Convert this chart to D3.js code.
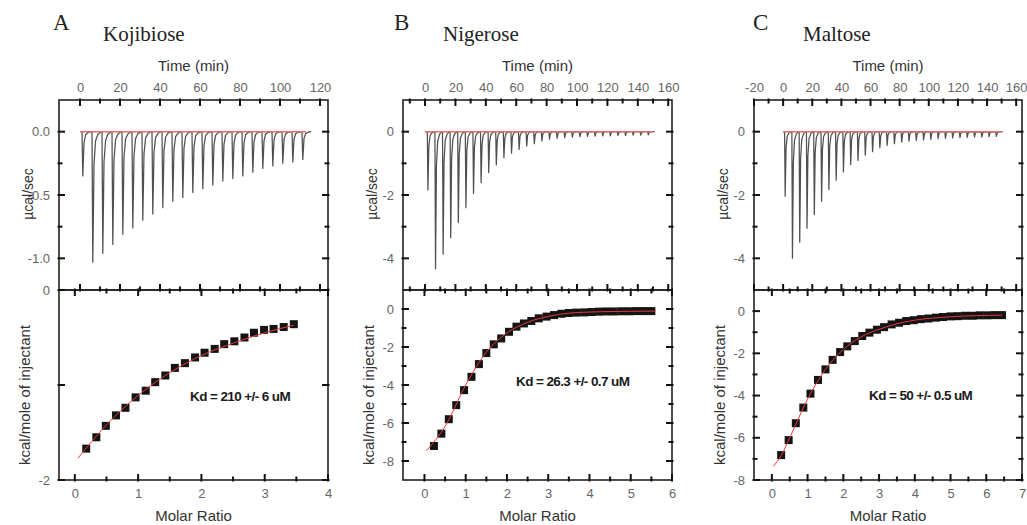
<!DOCTYPE html>
<html>
<head>
<meta charset="utf-8">
<script src="https://cdn.jsdelivr.net/npm/d3@7"></script>
<style>
    body { margin: 0; background: #fff; }
    svg { display: block; }
    .tick text { font-family: "Liberation Sans", Arial, sans-serif; font-size: 13px; fill: #666; }
    .axis-title { font-family: "Liberation Sans", Arial, sans-serif; font-size: 15px; fill: #333; }
    .letter { font-family: "Liberation Serif", "Times New Roman", serif; font-size: 23px; fill: #222; }
    .sugar { font-family: "Liberation Serif", "Times New Roman", serif; font-size: 21px; fill: #222; }
    .kd { font-family: "Liberation Sans", Arial, sans-serif; font-size: 13.5px; font-weight: bold; letter-spacing: -0.6px; fill: #1a1a1a; }
    .edge-tick { stroke: #111; stroke-width: 2; }
</style>
</head>
<body>
<svg width="1027" height="525"></svg>
<script>
// **** data ****

var letters = ['A', 'B', 'C'];
var sugarNames = ['Kojibiose', 'Nigerose', 'Maltose'];
var kdTexts = ['Kd = 210 +/- 6 uM', 'Kd = 26.3 +/- 0.7 uM', 'Kd = 50 +/- 0.5 uM'];

// raw thermograms: injection time (min) and peak height (ucal/sec)
var injTimeA = [1, 6, 11, 16, 21, 26, 31, 36, 41, 46, 51, 56, 61, 66, 71, 76, 81, 86, 91, 96, 101, 106, 111];
var peakA = [-0.35, -1.03, -0.96, -0.89, -0.81, -0.76, -0.70, -0.65, -0.60, -0.55, -0.52, -0.48,
    -0.45, -0.42, -0.39, -0.37, -0.35, -0.32, -0.29, -0.27, -0.25, -0.24, -0.22];

var injTimeB = [1.5, 6.5, 11.5, 16.5, 21.5, 26.5, 31.5, 36.5, 41.5, 46.5, 51.5, 56.5, 61.5, 66.5, 71.5,
    76.5, 81.5, 86.5, 91.5, 96.5, 101.5, 106.5, 111.5, 116.5, 121.5, 126.5, 131.5, 136.5, 141.5, 146.5];
var peakB = [-1.84, -4.33, -3.87, -3.35, -2.87, -2.40, -1.95, -1.61, -1.29, -1.05, -0.82, -0.68, -0.56,
    -0.45, -0.38, -0.29, -0.24, -0.21, -0.19, -0.17, -0.16, -0.15, -0.14, -0.13, -0.13, -0.12, -0.12,
    -0.11, -0.11, -0.10];

var injTimeC = [1, 6, 11, 16, 21, 26, 31, 36, 41, 46, 51, 56, 61, 66, 71, 76, 81, 86, 91, 96, 101,
    106, 111, 116, 121, 126, 131, 136, 141, 146];
var peakC = [-2.04, -4.00, -3.49, -3.05, -2.62, -2.20, -1.83, -1.53, -1.27, -1.04, -0.91, -0.74, -0.63,
    -0.51, -0.43, -0.38, -0.33, -0.30, -0.28, -0.26, -0.24, -0.22, -0.21, -0.20, -0.19, -0.18, -0.17,
    -0.17, -0.16, -0.15];

var baselineEnd = [113, 150, 149];

// integrated heats: molar ratio vs kcal/mole of injectant
var ratioA = [0.18, 0.34, 0.49, 0.65, 0.80, 0.96, 1.12, 1.27, 1.43, 1.58, 1.74, 1.90, 2.05, 2.21, 2.36,
    2.52, 2.68, 2.83, 2.99, 3.14, 3.30, 3.46];
var heatA = [-1.67, -1.55, -1.43, -1.32, -1.24, -1.13, -1.06, -0.97, -0.90, -0.82, -0.77, -0.71, -0.66,
    -0.62, -0.57, -0.54, -0.50, -0.45, -0.42, -0.41, -0.39, -0.36];

var ratioB = [0.23, 0.41, 0.59, 0.77, 0.96, 1.14, 1.32, 1.50, 1.68, 1.86, 2.05, 2.23, 2.41, 2.59, 2.77,
    2.96, 3.14, 3.32, 3.50, 3.68, 3.87, 4.05, 4.23, 4.41, 4.59, 4.78, 4.96, 5.14, 5.32, 5.50];
var heatB = [-7.21, -6.56, -5.80, -5.06, -4.27, -3.57, -2.90, -2.32, -1.86, -1.55, -1.20, -0.93, -0.76,
    -0.63, -0.49, -0.40, -0.32, -0.25, -0.21, -0.19, -0.18, -0.16, -0.14, -0.13, -0.13, -0.12, -0.12,
    -0.11, -0.11, -0.11];

var ratioC = [0.26, 0.47, 0.67, 0.88, 1.08, 1.29, 1.50, 1.70, 1.91, 2.11, 2.32, 2.53, 2.73, 2.94, 3.14,
    3.35, 3.56, 3.76, 3.97, 4.17, 4.38, 4.59, 4.79, 5.00, 5.20, 5.41, 5.62, 5.82, 6.03, 6.23, 6.44];
var heatC = [-6.82, -6.11, -5.31, -4.57, -3.91, -3.26, -2.76, -2.31, -1.94, -1.67, -1.42, -1.18, -1.02,
    -0.88, -0.76, -0.63, -0.55, -0.47, -0.43, -0.38, -0.35, -0.31, -0.28, -0.25, -0.24, -0.22, -0.22,
    -0.20, -0.20, -0.19, -0.19];

// red fit curves
var fitRatioA = [0.05, 0.5, 1.0, 1.5, 2.0, 2.5, 3.0, 3.46];
var fitHeatA = [-1.77, -1.42, -1.11, -0.87, -0.69, -0.56, -0.45, -0.37];
var fitRatioB = [0.05, 0.5, 1.0, 1.5, 2.0, 2.5, 3.0, 3.5, 4.0, 5.0, 5.6];
var fitHeatB = [-7.45, -6.18, -4.0, -2.27, -1.26, -0.70, -0.39, -0.22, -0.16, -0.12, -0.11];
var fitRatioC = [0.04, 0.26, 0.5, 1.0, 1.5, 2.0, 2.5, 3.0, 3.5, 4.0, 5.0, 6.45];
var fitHeatC = [-7.35, -6.85, -6.0, -4.17, -2.76, -1.82, -1.22, -0.86, -0.60, -0.43, -0.27, -0.19];

// tick values
var timeMajorA = [0, 20, 40, 60, 80, 100, 120];
var timeMinorA = [10, 30, 50, 70, 90, 110];
var timeMajorB = [0, 20, 40, 60, 80, 100, 120, 140, 160];
var timeMinorB = [-10, 10, 30, 50, 70, 90, 110, 130, 150];
var timeMajorC = [-20, 0, 20, 40, 60, 80, 100, 120, 140, 160];
var timeMinorC = [-10, 10, 30, 50, 70, 90, 110, 130, 150];

var rateMajorA = [0, -0.5, -1.0];
var rateMinorA = [-0.25, -0.75];
var rateMajorBC = [0, -2, -4];
var rateMinorBC = [-1, -3];

var ratioMajorA = [0, 1, 2, 3, 4];
var ratioMinorA = [0.5, 1.5, 2.5, 3.5];
var ratioMajorB = [0, 1, 2, 3, 4, 5, 6];
var ratioMinorB = [0.5, 1.5, 2.5, 3.5, 4.5, 5.5];
var ratioMajorC = [0, 1, 2, 3, 4, 5, 6, 7];
var ratioMinorC = [0.5, 1.5, 2.5, 3.5, 4.5, 5.5, 6.5];

var heatMajorA = [0, -1, -2];
var heatLabelA = [0, -2];
var heatMinorA = [];
var heatMajorBC = [0, -2, -4, -6, -8];
var heatMinorBC = [-1, -3, -5, -7];

// **** layout ****

var svg = d3.select('svg');
var yTop = 100, yMid = 290, yBot = 480;
var majorLen = 6, minorLen = 3.5, tickOut = 1.5;

var panels = [
    { x0: 59, x1: 328, letterX: 53, titleX: 103, kdX: 190, kdY: 401,
      timeDom: [-10.5, 124], rateDom: [-1.25, 0.25], ratioDom: [-0.25, 4], heatDom: [-2, 0],
      inj: injTimeA, peak: peakA, ratio: ratioA, heat: heatA, fitX: fitRatioA, fitY: fitHeatA,
      timeMajor: timeMajorA, timeMinor: timeMinorA, rateMajor: rateMajorA, rateMinor: rateMinorA,
      ratioMajor: ratioMajorA, ratioMinor: ratioMinorA, heatMajor: heatMajorA, heatMinor: heatMinorA,
      heatLabels: heatLabelA, rateFmt: function(d) { return d.toFixed(1); } },
    { x0: 403, x1: 672, letterX: 394, titleX: 443, kdX: 516, kdY: 386,
      timeDom: [-14.5, 162.5], rateDom: [-5, 1], ratioDom: [-0.52, 6], heatDom: [-9, 1],
      inj: injTimeB, peak: peakB, ratio: ratioB, heat: heatB, fitX: fitRatioB, fitY: fitHeatB,
      timeMajor: timeMajorB, timeMinor: timeMinorB, rateMajor: rateMajorBC, rateMinor: rateMinorBC,
      ratioMajor: ratioMajorB, ratioMinor: ratioMinorB, heatMajor: heatMajorBC, heatMinor: heatMinorBC,
      heatLabels: heatMajorBC, rateFmt: String },
    { x0: 754, x1: 1022, letterX: 753, titleX: 803, kdX: 869, kdY: 400,
      timeDom: [-20, 164], rateDom: [-5, 1], ratioDom: [-0.5, 7], heatDom: [-8, 1],
      inj: injTimeC, peak: peakC, ratio: ratioC, heat: heatC, fitX: fitRatioC, fitY: fitHeatC,
      timeMajor: timeMajorC, timeMinor: timeMinorC, rateMajor: rateMajorBC, rateMinor: rateMinorBC,
      ratioMajor: ratioMajorC, ratioMinor: ratioMinorC, heatMajor: heatMajorBC, heatMinor: heatMinorBC,
      heatLabels: heatMajorBC, rateFmt: String }
];

// shape of one injection peak: [minutes after injection, fraction of peak height]
var spikeShape = [[0, 0], [0.4, 1], [1.0, 0.25], [1.8, 0.07], [3.0, 0.02], [4.6, 0]];

// tick labels through a d3 axis (tick lines hidden)
function addLabels(axisFn, scale, values, fmt, transform, pad) {
    var g = svg.append('g')
        .attr('transform', transform)
        .call(axisFn(scale).tickValues(values).tickSize(0).tickPadding(pad).tickFormat(fmt));
    g.attr('font-size', null).attr('font-family', null);
    g.select('.domain').remove();
    g.selectAll('.tick line').remove();
}

// inward tick marks along a horizontal edge (dir = +1 down, -1 up)
function hTicks(scale, values, y, dir, len) {
    svg.append('g').selectAll('line')
        .data(values)
        .enter().append('line')
        .attr('class', 'edge-tick')
        .attr('x1', function(d) { return scale(d); })
        .attr('x2', function(d) { return scale(d); })
        .attr('y1', y - dir * tickOut)
        .attr('y2', y + dir * len);
}

// inward tick marks along a vertical edge (dir = +1 right, -1 left)
function vTicks(scale, values, x, dir, len) {
    svg.append('g').selectAll('line')
        .data(values)
        .enter().append('line')
        .attr('class', 'edge-tick')
        .attr('y1', function(d) { return scale(d); })
        .attr('y2', function(d) { return scale(d); })
        .attr('x1', x - dir * tickOut)
        .attr('x2', x + dir * len);
}

function boxTicks(xs, xMajor, xMinor, ys, yMajor, yMinor, x0, x1, ya, yb) {
    hTicks(xs, xMajor, ya, 1, majorLen);
    hTicks(xs, xMinor, ya, 1, minorLen);
    hTicks(xs, xMajor, yb, -1, majorLen);
    hTicks(xs, xMinor, yb, -1, minorLen);
    vTicks(ys, yMajor, x0, 1, majorLen);
    vTicks(ys, yMinor, x0, 1, minorLen);
    vTicks(ys, yMajor, x1, -1, majorLen);
    vTicks(ys, yMinor, x1, -1, minorLen);
}

panels.forEach(function(p, i) {
    var xT = d3.scaleLinear().domain(p.timeDom).range([p.x0, p.x1]);
    var yR = d3.scaleLinear().domain(p.rateDom).range([yMid, yTop]);
    var xM = d3.scaleLinear().domain(p.ratioDom).range([p.x0, p.x1]);
    var yH = d3.scaleLinear().domain(p.heatDom).range([yBot, yMid]);
    var midX = (p.x0 + p.x1) / 2;

    // headings
    svg.append('text').attr('class', 'letter').attr('x', p.letterX).attr('y', 30).text(letters[i]);
    svg.append('text').attr('class', 'sugar').attr('x', p.titleX).attr('y', 41).text(sugarNames[i]);
    svg.append('text').attr('class', 'axis-title').attr('text-anchor', 'middle')
        .attr('x', midX).attr('y', 71).text('Time (min)');

    // thermogram trace
    var pts = [[0, 0]];
    p.inj.forEach(function(t, k) {
        spikeShape.forEach(function(s) { pts.push([t + s[0], p.peak[k] * s[1]]); });
    });
    var line = d3.line().x(function(d) { return xT(d[0]); }).y(function(d) { return yR(d[1]); });
    svg.append('path').datum(pts)
        .attr('d', line)
        .attr('fill', 'none')
        .attr('stroke', '#505050')
        .attr('stroke-width', 1.25)
        .attr('stroke-linejoin', 'round');

    svg.append('path').datum([[0, 0], [baselineEnd[i], 0]])
        .attr('d', line)
        .attr('stroke', '#ec6b6b')
        .attr('stroke-width', 1.5);

    // binding isotherm
    var fitPts = p.fitX.map(function(x, k) { return [x, p.fitY[k]]; });
    var heatPts = p.ratio.map(function(x, k) { return [x, p.heat[k]]; });

    svg.append('g').selectAll('rect')
        .data(heatPts)
        .enter().append('rect')
        .attr('x', function(d) { return xM(d[0]) - 4; })
        .attr('y', function(d) { return yH(d[1]) - 4; })
        .attr('width', 8)
        .attr('height', 8)
        .attr('fill', '#141414');

    svg.append('path').datum(fitPts)
        .attr('d', d3.line().curve(d3.curveMonotoneX)
            .x(function(d) { return xM(d[0]); })
            .y(function(d) { return yH(d[1]); }))
        .attr('fill', 'none')
        .attr('stroke', '#e33a3a')
        .attr('stroke-width', 1);

    // frames
    svg.append('rect').attr('x', p.x0).attr('y', yTop)
        .attr('width', p.x1 - p.x0).attr('height', yMid - yTop)
        .attr('fill', 'none').attr('stroke', '#222').attr('stroke-width', 1.6);
    svg.append('rect').attr('x', p.x0).attr('y', yMid)
        .attr('width', p.x1 - p.x0).attr('height', yBot - yMid)
        .attr('fill', 'none').attr('stroke', '#222').attr('stroke-width', 1.6);

    // tick marks on all four sides, pointing in
    boxTicks(xT, p.timeMajor, p.timeMinor, yR, p.rateMajor, p.rateMinor, p.x0, p.x1, yTop, yMid);
    boxTicks(xM, p.ratioMajor, p.ratioMinor, yH, p.heatMajor, p.heatMinor, p.x0, p.x1, yMid, yBot);

    // tick labels
    addLabels(d3.axisTop, xT, p.timeMajor, String, `translate(0, ${yTop})`, 8);
    addLabels(d3.axisLeft, yR, p.rateMajor, p.rateFmt, `translate(${p.x0}, 0)`, 9);
    addLabels(d3.axisBottom, xM, p.ratioMajor, String, `translate(0, ${yBot})`, 9);
    addLabels(d3.axisLeft, yH, p.heatLabels, String, `translate(${p.x0}, 0)`, 9);

    // axis titles
    svg.append('text').attr('class', 'axis-title').attr('text-anchor', 'middle')
        .attr('transform', `translate(${p.x0 - 26}, 194) rotate(-90)`)
        .style('font-size', '14px')
        .text('\u00b5cal/sec');
    svg.append('text').attr('class', 'axis-title').attr('text-anchor', 'middle')
        .attr('transform', `translate(${p.x0 - 29}, 395) rotate(-90)`)
        .text('kcal/mole of injectant');
    svg.append('text').attr('class', 'axis-title').attr('text-anchor', 'middle')
        .attr('x', midX).attr('y', 521).text('Molar Ratio');

    svg.append('text').attr('class', 'kd').attr('x', p.kdX).attr('y', p.kdY).text(kdTexts[i]);
});
</script>
</body>
</html>
